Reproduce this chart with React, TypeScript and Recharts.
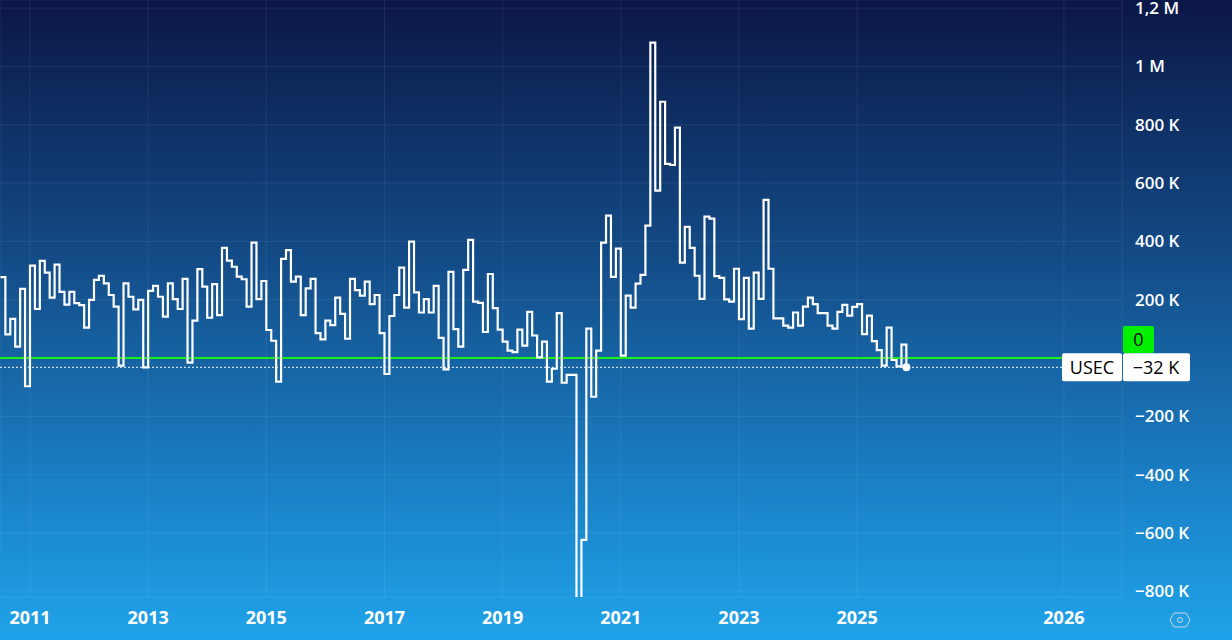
/**
 * UsEmploymentChange — step chart of monthly US employment change (ADP, thousands).
 */

import { LineChart, Line, XAxis, YAxis, CartesianGrid, ReferenceLine } from 'recharts';

// month index 0 = Jan 2011; first series value is Jul 2010
const FIRST_MONTH = -6;

const values2010 = [277, 81, 134, 39, 237, -97];
const values2011 = [317, 168, 333, 293, 207, 320, 227, 183, 227, 188, 181, 104];
const values2012 = [199, 268, 282, 256, 216, 176, -26, 256, 210, 167, 199, -32];
const values2013 = [230, 247, 210, 142, 256, 202, 168, 271, -16, 128, 305, 245];
const values2014 = [138, 253, 147, 378, 334, 313, 279, 270, 176, 396, 202, 264];
const values2015 = [96, 59, -81, 340, 370, 262, 279, 147, 239, 271, 85, 64];
const values2016 = [128, 113, 207, 151, 66, 271, 233, 214, 262, 185, 216, 85];
const values2017 = [-55, 144, 216, 310, 173, 399, 225, 156, 202, 156, 247, 69];
const values2018 = [-39, 295, 99, 39, 302, 405, 193, 189, 89, 288, 171, 97];
const values2019 = [56, 25, 20, 97, 42, 158, 77, 2, 56, -81, -37, 154];
const values2020 = [-85, -58, -58, -19500, -624, 101, -133, 25, 396, 488, 278, 375];
const values2021 = [8, 214, 173, 255, 285, 454, 1082, 574, 879, 666, 662, 790];
const values2022 = [327, 450, 378, 282, 203, 485, 478, 281, 275, 201, 193, 306];
const values2023 = [133, 275, 101, 293, 203, 542, 306, 136, 136, 111, 104, 156];
const values2024 = [111, 176, 207, 185, 154, 154, 111, 101, 158, 182, 145, 175];
const values2025 = [185, 82, 145, 58, 27, -26, 104, -7, -29, 46, -32];

const allYears = [
  values2010, values2011, values2012, values2013, values2014, values2015,
  values2016, values2017, values2018, values2019, values2020, values2021,
  values2022, values2023, values2024, values2025,
];

const xTickMonths = [0, 24, 48, 72, 96, 120, 144, 168, 210];
const xTickLabels = ['2011', '2013', '2015', '2017', '2019', '2021', '2023', '2025', '2026'];

const yTicks = [-800, -600, -400, -200, 200, 400, 600, 800, 1000, 1200];

const LAST_VALUE = -32;

const data: { t: number; v: number }[] = [];
{
  let t = FIRST_MONTH;
  allYears.forEach((arr) =>
    arr.forEach((v) => {
      data.push({ t, v });
      t += 1;
    })
  );
}
const lastIndex = data.length - 1;

const FONT = '"Open Sans", "DejaVu Sans", sans-serif';

function fmtY(v: number) {
  if (v >= 1000) return v === 1000 ? '1 M' : `${(v / 1000).toString().replace('.', ',')} M`;
  return v < 0 ? `\u2212${Math.abs(v)} K` : `${v} K`;
}

function XTick({ x, y, payload }: any) {
  const i = xTickMonths.indexOf(payload.value);
  return (
    <text x={x} y={y} dy={19} textAnchor="middle" fill="#ffffff" fontSize={18} fontWeight={700} fontFamily={FONT}>
      {xTickLabels[i]}
    </text>
  );
}

function YTick({ x, y, payload }: any) {
  return (
    <text x={x} y={y} dx={5} dy={6} textAnchor="start" fill="#ffffff" fontSize={17} fontWeight={600} fontFamily={FONT}>
      {fmtY(payload.value)}
    </text>
  );
}

function ZeroLabel({ viewBox }: any) {
  const { x, y, width } = viewBox;
  const bx = x + width + 1;
  return (
    <g>
      <rect x={bx} y={y - 32} width={31} height={27} fill="#00f000" rx={2} />
      <text x={bx + 15.5} y={y - 12} textAnchor="middle" fill="#000" fontSize={18} fontFamily={FONT}>
        0
      </text>
    </g>
  );
}

function LastLabel({ viewBox }: any) {
  const { x, y, width } = viewBox;
  const right = x + width;
  return (
    <g>
      <rect x={right - 60} y={y - 14} width={60} height={28} fill="#ffffff" rx={2} />
      <text x={right - 30} y={y + 7} textAnchor="middle" fill="#000" fontSize={18} fontFamily={FONT}>
        USEC
      </text>
      <rect x={right + 1} y={y - 14} width={67} height={28} fill="#ffffff" rx={2} />
      <text x={right + 34} y={y + 7} textAnchor="middle" fill="#000" fontSize={18} fontFamily={FONT}>
        {fmtY(LAST_VALUE)}
      </text>
    </g>
  );
}

export default function App() {
  return (
    <div
      style={{
        position: 'absolute',
        left: 0,
        top: 0,
        width: 1232,
        height: 640,
        background: 'linear-gradient(to bottom, #0b1746 0%, #134b86 40%, #1a7fc4 75%, #1fa3ea 100%)',
        overflow: 'hidden',
      }}
    >
      <LineChart width={1232} height={640} data={data} margin={{ top: 0, right: 0, left: 0, bottom: 0 }}>
        <CartesianGrid stroke="rgba(255,255,255,0.07)" strokeWidth={1} />
        <XAxis
          dataKey="t"
          type="number"
          domain={[-6.09, 221.8]}
          allowDataOverflow
          ticks={xTickMonths}
          interval={0}
          height={43}
          tick={<XTick />}
          tickLine={false}
          axisLine={false}
        />
        <YAxis
          orientation="right"
          type="number"
          domain={[-820, 1228]}
          allowDataOverflow
          ticks={yTicks}
          interval={0}
          width={110}
          tick={<YTick />}
          tickLine={false}
          axisLine={false}
        />
        <ReferenceLine y={0} stroke="#19f019" strokeWidth={2} label={<ZeroLabel />} />
        <ReferenceLine
          y={LAST_VALUE}
          stroke="#ffffff"
          strokeWidth={1}
          strokeDasharray="2 2"
          label={<LastLabel />}
        />
        <Line
          type="stepAfter"
          dataKey="v"
          stroke="#ffffff"
          strokeWidth={2.2}
          isAnimationActive={false}
          dot={(p: any) =>
            p.index === lastIndex ? (
              <circle key={p.key ?? 'last'} cx={p.cx} cy={p.cy} r={4} fill="#ffffff" />
            ) : (
              <g key={p.key ?? `d${p.index}`} />
            )
          }
          activeDot={false}
        />
      </LineChart>
      <svg width={22} height={22} style={{ position: 'absolute', left: 1169, top: 609 }}>
        <polygon points="5,4 17,4 21,11 17,18 5,18 1,11" fill="none" stroke="#cfd8e3" strokeWidth={1} />
        <circle cx={11} cy={11} r={2.5} fill="none" stroke="#cfd8e3" strokeWidth={1} />
      </svg>
    </div>
  );
}
